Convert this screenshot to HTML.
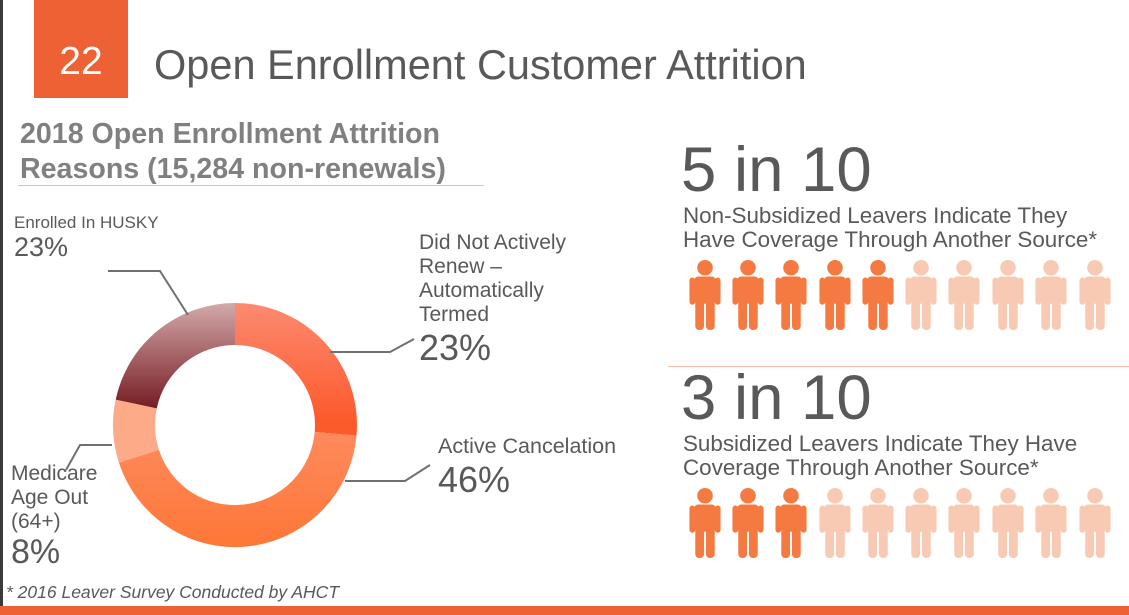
<!DOCTYPE html>
<html><head><meta charset="utf-8"><style>
body{margin:0;width:1129px;height:615px;overflow:hidden;background:#fff;font-family:"Liberation Sans",sans-serif;position:relative}
.a{position:absolute;white-space:nowrap;color:#595959}
</style></head><body>
<div style="position:absolute;left:0;top:0;width:3px;height:615px;background:#3a3a3a"></div>
<div style="position:absolute;left:34px;top:0;width:94px;height:98px;background:#ee6134"></div>
<div class="a" style="left:34px;width:94px;text-align:center;top:40px;font-size:39px;color:#fff">22</div>
<div class="a" style="left:154px;top:41px;font-size:41.5px">Open Enrollment Customer Attrition</div>
<div class="a" style="left:20px;top:117px;font-size:28.6px;font-weight:bold;color:#808080;line-height:35px">2018 Open Enrollment Attrition<br>Reasons (15,284 non-renewals)</div>
<div style="position:absolute;left:18px;top:185px;width:466px;height:1px;background:#f4b9a0"></div>
<div class="a" style="left:14px;top:213px;font-size:17px">Enrolled In HUSKY</div>
<div class="a" style="left:14px;top:232px;font-size:27px">23%</div>
<div class="a" style="left:419px;top:231px;font-size:21px;line-height:24px">Did Not Actively<br>Renew –<br>Automatically<br>Termed</div>
<div class="a" style="left:419px;top:327px;font-size:36px">23%</div>
<div class="a" style="left:438px;top:434px;font-size:21.5px">Active Cancelation</div>
<div class="a" style="left:438px;top:459px;font-size:36px">46%</div>
<div class="a" style="left:11px;top:462px;font-size:21px;line-height:24px">Medicare<br>Age Out<br>(64+)</div>
<div class="a" style="left:11px;top:533px;font-size:34px">8%</div>
<div class="a" style="left:6px;top:582px;font-size:17.5px;font-style:italic">* 2016 Leaver Survey Conducted by AHCT</div>
<div style="position:absolute;left:0;top:606px;width:1129px;height:9px;background:#ee6134"></div>

<div class="a" style="left:681px;top:134px;font-size:63.5px">5 in 10</div>
<div class="a" style="left:683px;top:204px;font-size:22.4px;line-height:24px">Non-Subsidized Leavers Indicate They<br>Have Coverage Through Another Source*</div>
<div style="position:absolute;left:668px;top:366px;width:461px;height:1px;background:#f4b9a0"></div>
<div class="a" style="left:681px;top:362px;font-size:63.5px">3 in 10</div>
<div class="a" style="left:683px;top:432px;font-size:22.4px;line-height:24px">Subsidized Leavers Indicate They Have<br>Coverage Through Another Source*</div>

<svg width="1129" height="615" style="position:absolute;left:0;top:0">
<defs>
<symbol id="p" viewBox="0 0 34 72">
<circle cx="17" cy="8" r="8"/>
<rect x="6" y="17" width="22" height="28" rx="4"/>
<rect x="1" y="18" width="6" height="28" rx="3"/>
<rect x="27" y="18" width="6" height="28" rx="3"/>
<rect x="7" y="38" width="9" height="34" rx="4"/>
<rect x="18" y="38" width="9" height="34" rx="4"/>
</symbol>
<linearGradient id="g1" gradientUnits="userSpaceOnUse" x1="0" y1="304" x2="0" y2="420"><stop offset="0" stop-color="#fc8a70"/><stop offset="1" stop-color="#fd5a2c"/></linearGradient>
<linearGradient id="g2" gradientUnits="userSpaceOnUse" x1="0" y1="410" x2="0" y2="548"><stop offset="0" stop-color="#fe8d65"/><stop offset="1" stop-color="#fe7736"/></linearGradient>
<linearGradient id="g4" gradientUnits="userSpaceOnUse" x1="0" y1="304" x2="0" y2="418"><stop offset="0" stop-color="#d2a8a8"/><stop offset="1" stop-color="#6e1018"/></linearGradient>
</defs>
<g fill="none" stroke-width="42">
<path d="M235,324 A101,101 0 0 1 335.6,433.8" stroke="url(#g1)"/>
<path d="M335.6,433.8 A101,101 0 0 1 138.9,456.2" stroke="url(#g2)"/>
<path d="M138.9,456.2 A101,101 0 0 1 136.2,404" stroke="#fdaa88"/>
<path d="M136.2,404 A101,101 0 0 1 235,324" stroke="url(#g4)"/>
</g>
<g fill="none" stroke="#707070" stroke-width="2">
<polyline points="108,271 160,271 188,315"/>
<polyline points="330,352 390,352 414,339"/>
<polyline points="345,481 405,481 430,465"/>
<polyline points="66,470 80,445 112,445"/>
</g>
<g>
<g fill="#f47a42">
<use href="#p" x="688" y="260" width="34" height="70"/><use href="#p" x="731" y="260" width="34" height="70"/><use href="#p" x="774" y="260" width="34" height="70"/><use href="#p" x="818" y="260" width="34" height="70"/><use href="#p" x="861" y="260" width="34" height="70"/>
<use href="#p" x="688" y="488" width="34" height="70"/><use href="#p" x="731" y="488" width="34" height="70"/><use href="#p" x="774" y="488" width="34" height="70"/>
</g>
<g fill="#f9cab3">
<use href="#p" x="904" y="260" width="34" height="70"/><use href="#p" x="947" y="260" width="34" height="70"/><use href="#p" x="991" y="260" width="34" height="70"/><use href="#p" x="1034" y="260" width="34" height="70"/><use href="#p" x="1078" y="260" width="34" height="70"/>
<use href="#p" x="818" y="488" width="34" height="70"/><use href="#p" x="861" y="488" width="34" height="70"/><use href="#p" x="904" y="488" width="34" height="70"/><use href="#p" x="947" y="488" width="34" height="70"/><use href="#p" x="991" y="488" width="34" height="70"/><use href="#p" x="1034" y="488" width="34" height="70"/><use href="#p" x="1078" y="488" width="34" height="70"/>
</g>
</g>
</svg>
</body></html>
